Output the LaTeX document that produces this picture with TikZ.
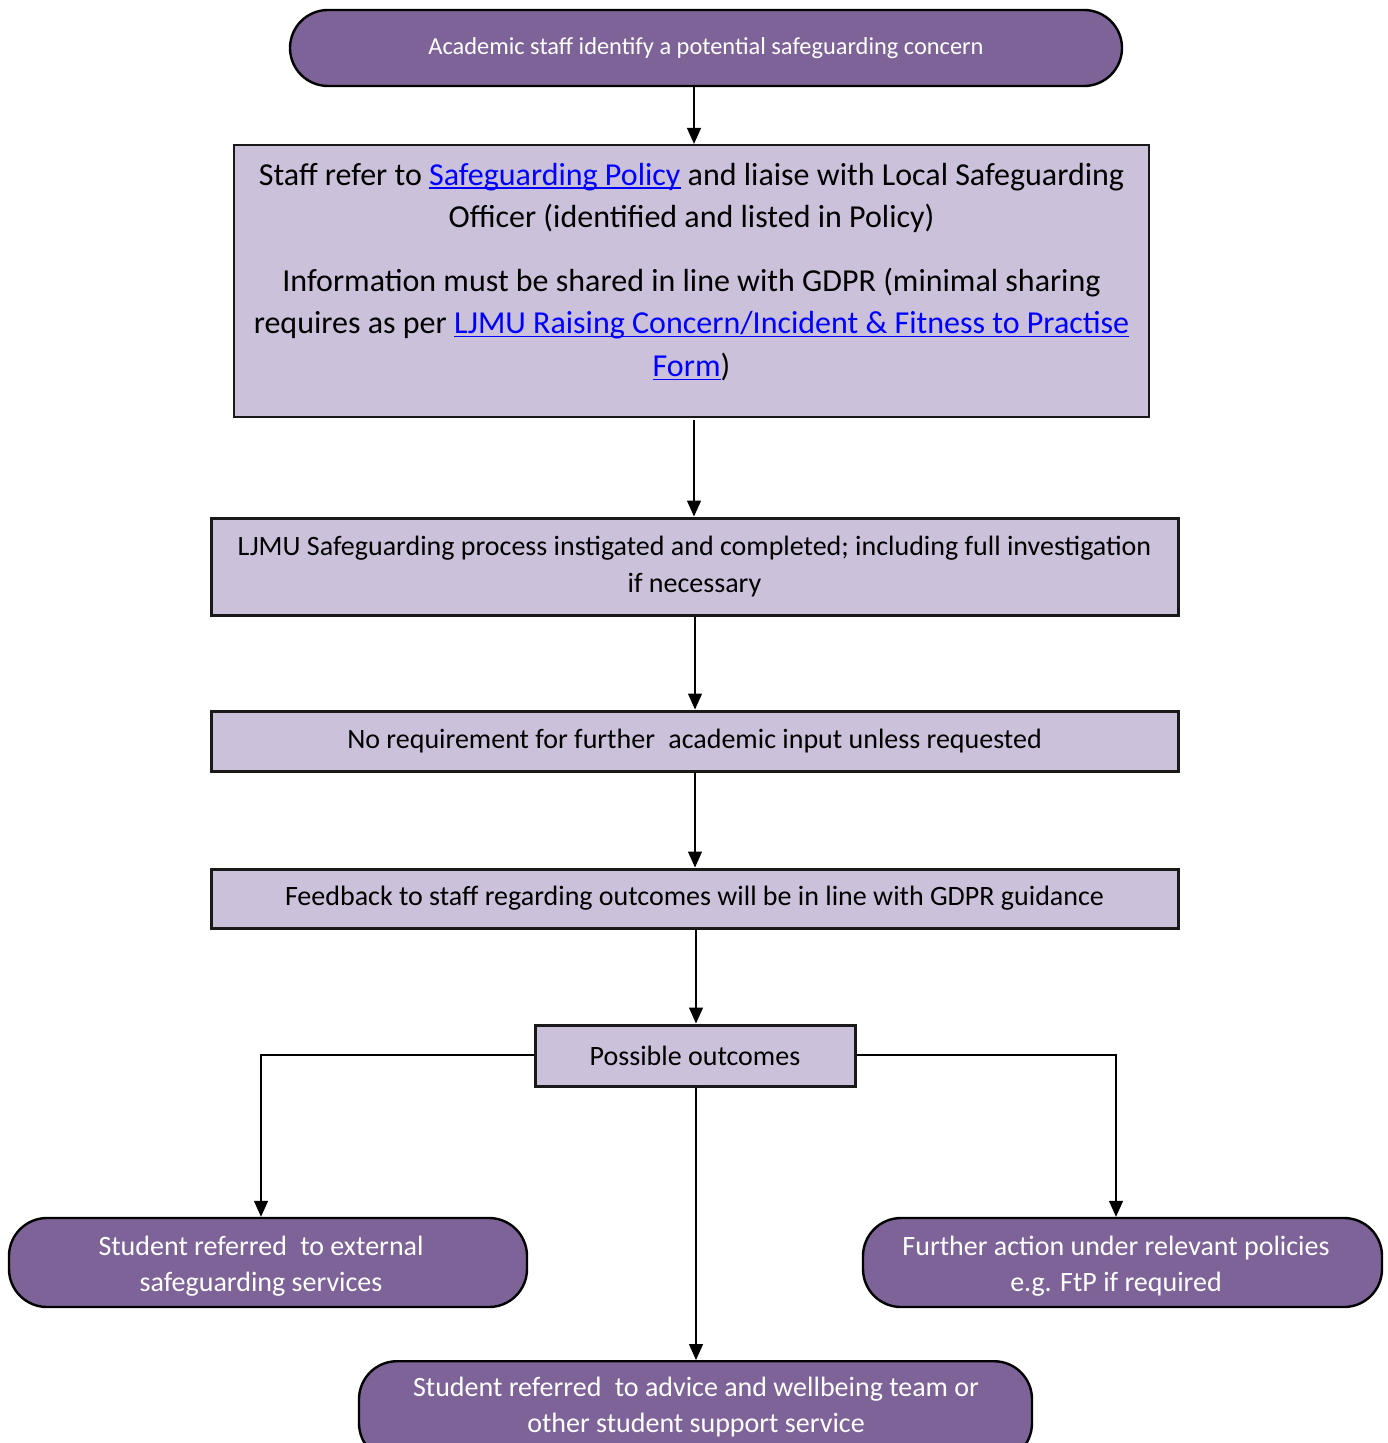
\documentclass[tikz,border=0pt]{standalone}
\usepackage{fontspec}
\setmainfont{Carlito}
\usetikzlibrary{arrows.meta}
\definecolor{pillfill}{HTML}{7E6399}
\definecolor{boxfill}{HTML}{CCC1DA}
\definecolor{linkblue}{HTML}{0000FF}
\newcommand{\lnk}[1]{\textcolor{linkblue}{\setbox0\hbox{#1}\rlap{\rule[-1.8pt]{\wd0}{0.85pt}}\box0}}
\newcommand{\xsp}{\hspace{0.25em}}
\def\u{0.5pt}
\begin{document}
\begin{tikzpicture}[x=0.5pt,y=-0.5pt,
  pill/.style={draw=black,line width=1.2pt,fill=pillfill,rounded corners=19pt,inner sep=0pt},
  pilltext/.style={text=white,align=center,font=\fontsize{14}{18}\selectfont},
  rbox/.style={draw=black!90,line width=1.5pt,fill=boxfill,align=center,inner sep=0pt},
  bodyfont/.style={font=\fontsize{14}{18.3}\selectfont},
  conn/.style={line width=0.65pt,-{Triangle[length=8pt,width=7pt]}}]
\useasboundingbox (0,0) rectangle (1387,1443);
% nodes
\node[pill,text=white,minimum width={832*\u},minimum height={76*\u},font=\fontsize{12.2}{15}\selectfont] (top) at (706,48) {Academic staff identify a potential safeguarding concern};
\node[rbox,line width=1.1pt,minimum width={915*\u},minimum height={272*\u}] (refer) at (691.5,281) {};
\node[font=\fontsize{16}{21.4}\selectfont,align=center] (refertxt) at (691.5,272) {Staff refer to \lnk{Safeguarding Policy} and liaise with Local Safeguarding\\Officer (identified and listed in Policy)\\[10.2pt]Information must be shared in line with GDPR (minimal sharing\\requires as per \lnk{LJMU Raising Concern/Incident \& Fitness to Practise}\\\lnk{Form})};
\node[rbox,bodyfont,minimum width={967*\u},minimum height={97*\u}] (ljmu) at (694.5,566.5) {LJMU Safeguarding process instigated and completed; including full investigation\\if necessary};
\node[rbox,bodyfont,minimum width={967*\u},minimum height={60*\u}] (noreq) at (694.5,741) {No requirement for further\xsp{} academic input unless requested};
\node[rbox,bodyfont,minimum width={967*\u},minimum height={59*\u}] (feed) at (694.5,898.5) {Feedback to staff regarding outcomes will be in line with GDPR guidance};
\node[rbox,bodyfont,minimum width={320*\u},minimum height={61*\u}] (poss) at (695,1055.5) {Possible outcomes};
\node[pill,minimum width={518*\u},minimum height={89*\u}] (ext) at (268,1262.5) {};
\node[pilltext] (exttxt) at (261,1266) {Student referred\xsp{} to external\\safeguarding services};
\node[pill,minimum width={519*\u},minimum height={89*\u}] (fur) at (1122.5,1262.5) {};
\node[pilltext] (furtxt) at (1116,1266) {Further action under relevant policies\\e.g. FtP if required};
\node[pill,minimum width={673*\u},minimum height={100*\u},anchor=north] (adv) at (695.5,1360) {};
\node[pilltext] (advtxt) at (696,1407) {Student referred\xsp{} to advice and wellbeing team or\\other student support service};
% connectors
\coordinate (lc) at (261,1055);
\coordinate (rc) at (1116,1055);
\draw[conn] (top.south -| 694,0) -- (refer.north -| 694,0);
\draw[conn] (694,420) -- (ljmu.north -| 694,0);
\draw[conn] (ljmu.south -| 695,0) -- (noreq.north -| 695,0);
\draw[conn] (noreq.south -| 695,0) -- (feed.north -| 695,0);
\draw[conn] (feed.south -| 696,0) -- (poss.north -| 696,0);
\draw[conn] (poss.west |- lc) -- (lc) -- (ext.north -| lc);
\draw[conn] (poss.east |- rc) -- (rc) -- (fur.north -| rc);
\draw[conn] (poss.south -| 696,0) -- (adv.north -| 696,0);
\end{tikzpicture}
\end{document}
